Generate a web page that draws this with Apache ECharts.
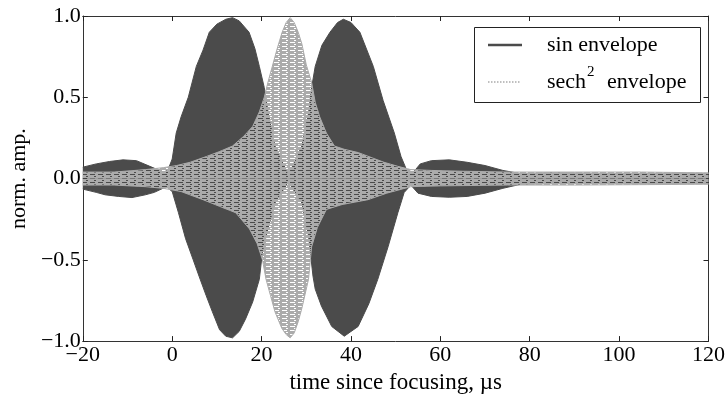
<!DOCTYPE html>
<html>
<head>
<meta charset="utf-8">
<script src="https://cdn.jsdelivr.net/npm/echarts@6/dist/echarts.min.js"></script>
<style>
html,body{margin:0;padding:0;background:#fff;}
#chart{width:728px;height:399px;}
</style>
</head>
<body>
<div id="chart"></div>
<script>
// ---- data (envelope of the oscillating signals) ----
var darkTime  = [-20,-17,-14,-11,-8,-5,-2,-1,0,0.9,2,3.6,5.4,6.9,8.3,10,12,13.5,15,17.2,18.5,19.5,20.6,21.5,23,26,29,30.5,31.2,32,33.5,35.3,37,38.3,40,42,45,47.2,49.7,51.2,52.5,54,55.5,58,62,66,70,74,78,85,100,120];
var darkUpper = [0.07,0.09,0.105,0.115,0.11,0.075,0.04,0.05,0.12,0.28,0.38,0.5,0.69,0.79,0.9,0.95,0.98,0.99,0.97,0.9,0.8,0.69,0.56,0.4,0.2,0.02,0.2,0.4,0.56,0.69,0.82,0.9,0.96,0.98,0.96,0.9,0.69,0.48,0.28,0.135,0.05,0.04,0.09,0.11,0.115,0.1,0.08,0.05,0.03,0.035,0.03,0.03];
var darkTimeL = [-20,-17,-15,-12,-9,-6,-4,-1.3,0,1.4,3,4.7,6,7.6,9,10.6,12,13.5,15,16.4,18,19.5,20.2,21.5,23,26,29,30.5,31.5,32,33.4,35.7,38.5,41.6,44,46,48.3,50.5,51.9,53.4,55,58,62,66,70,74,78,85,100,120];
var darkLower = [-0.065,-0.085,-0.1,-0.11,-0.117,-0.1,-0.085,-0.05,-0.08,-0.21,-0.37,-0.5,-0.6,-0.72,-0.82,-0.93,-0.97,-0.98,-0.94,-0.865,-0.76,-0.62,-0.45,-0.3,-0.15,-0.02,-0.15,-0.35,-0.6,-0.68,-0.785,-0.91,-0.97,-0.91,-0.77,-0.62,-0.42,-0.21,-0.086,-0.04,-0.09,-0.11,-0.115,-0.11,-0.09,-0.06,-0.035,-0.03,-0.03,-0.03];
var lightTime  = [-20,-13,-6,-2,1,4,7.6,10.5,13.5,16,18,19.5,20.6,21.5,22.4,23.5,24.6,25.5,26.4,27.3,28.2,29,30,31.2,32,33,34.5,36.3,38.5,41.6,44.5,47.4,50.5,53.4,58,65,75,90,105,120];
var lightUpper = [0.04,0.04,0.055,0.067,0.08,0.1,0.135,0.165,0.2,0.26,0.32,0.41,0.5,0.6,0.69,0.8,0.9,0.96,0.99,0.96,0.9,0.83,0.7,0.59,0.47,0.38,0.28,0.2,0.18,0.16,0.13,0.1,0.075,0.055,0.05,0.045,0.04,0.04,0.04,0.035];
var lightTimeL = [-20,-13,-6,-2,2,6.9,10.5,14.2,17.3,19,20.2,21,22,23,24.5,25.5,26.4,27.3,28.2,29,30.5,31.2,32.5,34.5,38,43.8,48,53.4,60,75,90,120];
var lightLower = [-0.04,-0.04,-0.05,-0.06,-0.08,-0.13,-0.17,-0.21,-0.31,-0.4,-0.5,-0.62,-0.72,-0.82,-0.92,-0.96,-0.98,-0.95,-0.88,-0.8,-0.62,-0.42,-0.3,-0.19,-0.16,-0.13,-0.09,-0.05,-0.045,-0.04,-0.04,-0.035];

var xTicks = [-20, 0, 20, 40, 60, 80, 100, 120];
var yTicks = [-1.0, -0.5, 0.0, 0.5, 1.0];
var yTickLabels = ['\u22121.0', '\u22120.5', '0.0', '0.5', '1.0'];
var xTickLabels = ['\u221220', '0', '20', '40', '60', '80', '100', '120'];
var seriesNames = ['sin envelope', 'sech'];

function pairs(xs, ys) { return xs.map(function (x, i) { return [x, ys[i]]; }); }

var DARK = '#4b4b4b';
var LIGHT = '#ababab';
var FONT = 'Liberation Serif';

// hatch-like tile imitating the dense dashed oscillation of the light trace
function makeTile() {
  var c = document.createElement('canvas');
  c.width = 8; c.height = 4;
  var g = c.getContext('2d');
  g.fillStyle = LIGHT;
  g.fillRect(0, 0, 8, 4);
  g.clearRect(2, 2, 5, 1);
  g.clearRect(6, 0, 2, 1);
  return c;
}
var tile = makeTile();

function band(name, xs, ys, fill, lineColor, z) {
  return {
    name: name, type: 'line', data: pairs(xs, ys), showSymbol: false, silent: true,
    lineStyle: { width: 1, color: lineColor }, z: z,
    areaStyle: { color: fill, opacity: 1, origin: 0 }, animation: false
  };
}

var chart = echarts.init(document.getElementById('chart'), null, { renderer: 'canvas' });
var axisLine = { show: true, onZero: false, lineStyle: { color: '#333', width: 1 } };
var tick = { show: true, inside: true, length: 5, lineStyle: { color: '#222', width: 1 } };

chart.setOption({
  backgroundColor: '#fff',
  animation: false,
  grid: { left: 79, right: 18, top: 16, bottom: 57, containLabel: false },
  xAxis: [{
    type: 'value', min: -20, max: 120, interval: 20,
    axisLine: axisLine, axisTick: tick, splitLine: { show: false },
    axisLabel: { color: '#000', fontFamily: FONT, fontSize: 22, margin: 3,
      formatter: function (v) { var i = xTicks.indexOf(v); return i >= 0 ? xTickLabels[i] : ''; } },
    name: 'time since focusing, \u00b5s', nameLocation: 'middle', nameGap: 29,
    nameTextStyle: { color: '#000', fontFamily: FONT, fontSize: 23 }
  }, {
    type: 'value', position: 'top', min: -20, max: 120, interval: 20,
    axisLine: axisLine, axisTick: tick, axisLabel: { show: false }, splitLine: { show: false }
  }],
  yAxis: [{
    type: 'value', min: -1, max: 1, interval: 0.5,
    axisLine: axisLine, axisTick: tick, splitLine: { show: false },
    axisLabel: { color: '#000', fontFamily: FONT, fontSize: 22, margin: 2,
      formatter: function (v) { for (var i = 0; i < yTicks.length; i++) { if (Math.abs(yTicks[i] - v) < 1e-9) return yTickLabels[i]; } return ''; } },
    name: 'norm. amp.', nameLocation: 'middle', nameGap: 46, nameRotate: 90,
    nameTextStyle: { color: '#000', fontFamily: FONT, fontSize: 22 }
  }, {
    type: 'value', position: 'right', min: -1, max: 1, interval: 0.5,
    axisLine: axisLine, axisTick: tick, axisLabel: { show: false }, splitLine: { show: false }
  }],
  series: [
    band(seriesNames[0], darkTime, darkUpper, DARK, DARK, 2),
    band(seriesNames[0], darkTimeL, darkLower, DARK, DARK, 2),
    band(seriesNames[1], lightTime, lightUpper, { image: tile, repeat: 'repeat' }, LIGHT, 3),
    band(seriesNames[1], lightTimeL, lightLower, { image: tile, repeat: 'repeat' }, LIGHT, 3)
  ],
  graphic: [
    { type: 'rect', z: 100, shape: { x: 474.5, y: 27.5, width: 226, height: 75 },
      style: { fill: '#fff', stroke: '#222', lineWidth: 1 } },
    { type: 'line', z: 101, shape: { x1: 488, y1: 45, x2: 522, y2: 45 },
      style: { stroke: DARK, lineWidth: 2.5 } },
    { type: 'line', z: 101, shape: { x1: 488, y1: 82, x2: 520, y2: 82 },
      style: { stroke: LIGHT, lineWidth: 1.5, lineDash: [1.5, 1.5] } },
    { type: 'text', z: 101, x: 547, y: 45,
      style: { text: 'sin envelope', font: '22px "Liberation Serif"', fill: '#000', verticalAlign: 'middle', align: 'left' } },
    { type: 'text', z: 101, x: 547, y: 82,
      style: { text: 'sech', font: '22px "Liberation Serif"', fill: '#000', verticalAlign: 'middle', align: 'left' } },
    { type: 'text', z: 101, x: 587, y: 72,
      style: { text: '2', font: '15px "Liberation Serif"', fill: '#000', verticalAlign: 'middle', align: 'left' } },
    { type: 'text', z: 101, x: 607, y: 82,
      style: { text: 'envelope', font: '22px "Liberation Serif"', fill: '#000', verticalAlign: 'middle', align: 'left' } }
  ]
});
</script>
</body>
</html>
